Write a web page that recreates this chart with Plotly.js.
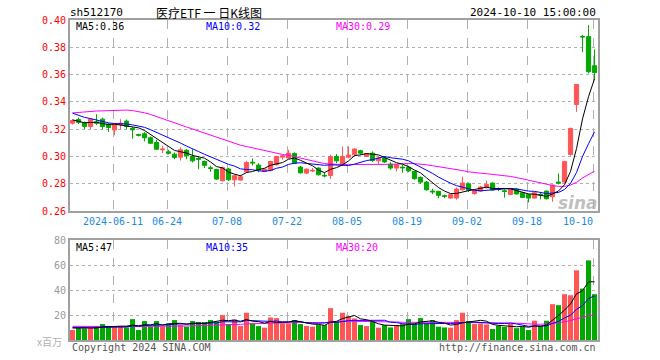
<!DOCTYPE html>
<html><head><meta charset="utf-8">
<script src="https://cdn.plot.ly/plotly-3.0.1.min.js"></script>
<style>html,body{margin:0;padding:0;background:#fff;}#chart{width:660px;height:360px;}</style>
</head><body><div id="chart"></div>
<script>
// ---- data ----
const symbol = 'sh512170';
const chartTitle = '医疗ETF 一 日K线图';
const stamp = '2024-10-10 15:00:00';
const firstDay = '2024-05-30', lastDay = '2024-10-10';
const holidays = ['2024-06-10','2024-09-16','2024-09-17','2024-10-01','2024-10-02','2024-10-03','2024-10-04','2024-10-07'];
const tickDates = ['2024-06-11','2024-06-24','2024-07-08','2024-07-22','2024-08-05','2024-08-19','2024-09-02','2024-09-18','2024-10-10'];

const openP = [0.3244,0.3270,0.3249,0.3220,0.3254,0.3273,0.3237,0.3195,0.3234,0.3259,
0.3205,0.3161,0.3166,0.3137,0.3102,0.3049,0.3034,0.3017,0.2995,0.3046,
0.3000,0.2985,0.2963,0.2917,0.2905,0.2822,0.2908,0.2829,0.2827,0.2888,
0.2958,0.2937,0.2890,0.2898,0.2939,0.2995,0.2988,0.3022,0.2922,0.2878,
0.2893,0.2915,0.2862,0.2860,0.3000,0.2944,0.2995,0.3012,0.3042,0.3000,
0.3024,0.2968,0.2988,0.2944,0.2915,0.2922,0.2920,0.2890,0.2846,0.2812,
0.2746,0.2744,0.2712,0.2695,0.2695,0.2756,0.2800,0.2728,0.2746,0.2771,
0.2805,0.2762,0.2748,0.2722,0.2760,0.2734,0.2720,0.2695,0.2722,0.2746,
0.2705,0.2812,0.2812,0.3015,0.3381,0.3880,0.3878,0.3665];
const highP = [0.3270,0.3286,0.3255,0.3280,0.3310,0.3285,0.3244,0.3240,0.3273,0.3270,
0.3215,0.3166,0.3180,0.3146,0.3122,0.3078,0.3049,0.3029,0.3066,0.3053,
0.3053,0.2995,0.2970,0.2932,0.2910,0.2925,0.2915,0.2868,0.2866,0.2968,
0.2985,0.2951,0.2912,0.2968,0.3005,0.3012,0.3049,0.3030,0.2930,0.2912,
0.2915,0.2920,0.2883,0.3012,0.3017,0.3073,0.3073,0.3061,0.3049,0.3024,
0.3037,0.3000,0.3000,0.2958,0.2944,0.2939,0.2932,0.2895,0.2854,0.2820,
0.2763,0.2749,0.2720,0.2725,0.2773,0.2853,0.2808,0.2755,0.2785,0.2824,
0.2810,0.2771,0.2760,0.2768,0.2768,0.2740,0.2725,0.2740,0.2734,0.2751,
0.2795,0.2876,0.2968,0.3212,0.3530,0.3890,0.3963,0.3785];
const lowP = [0.3234,0.3238,0.3200,0.3200,0.3230,0.3200,0.3180,0.3156,0.3200,0.3200,
0.3130,0.3146,0.3110,0.3092,0.3049,0.3024,0.3015,0.2980,0.2970,0.2980,
0.2956,0.2907,0.2915,0.2888,0.2829,0.2815,0.2820,0.2780,0.2822,0.2880,
0.2934,0.2885,0.2885,0.2890,0.2935,0.2976,0.2985,0.2945,0.2875,0.2870,
0.2885,0.2860,0.2846,0.2835,0.2951,0.2934,0.2985,0.3000,0.3012,0.2995,
0.2960,0.2946,0.2951,0.2903,0.2890,0.2880,0.2885,0.2829,0.2798,0.2749,
0.2724,0.2695,0.2695,0.2690,0.2683,0.2749,0.2740,0.2720,0.2740,0.2765,
0.2750,0.2746,0.2698,0.2718,0.2720,0.2695,0.2663,0.2690,0.2685,0.2685,
0.2668,0.2795,0.2805,0.3005,0.3327,0.3763,0.3609,0.3565];
const closeP = [0.3263,0.3250,0.3220,0.3273,0.3244,0.3220,0.3212,0.3234,0.3244,0.3220,
0.3195,0.3156,0.3137,0.3097,0.3053,0.3054,0.3024,0.2993,0.3049,0.3005,
0.2968,0.2980,0.2935,0.2912,0.2834,0.2918,0.2829,0.2859,0.2851,0.2956,
0.2953,0.2900,0.2907,0.2963,0.3000,0.3005,0.3024,0.2950,0.2880,0.2907,
0.2898,0.2866,0.2858,0.3000,0.2968,0.3000,0.3010,0.3054,0.3024,0.3020,
0.2970,0.2988,0.2960,0.2915,0.2939,0.2917,0.2895,0.2837,0.2812,0.2756,
0.2741,0.2715,0.2708,0.2720,0.2761,0.2805,0.2752,0.2750,0.2776,0.2795,
0.2754,0.2758,0.2744,0.2763,0.2725,0.2700,0.2695,0.2734,0.2717,0.2690,
0.2790,0.2805,0.2962,0.3205,0.3527,0.3876,0.3621,0.3615];
// volume, millions
const volume = [8.0,10.1,9.3,10.1,10.7,12.8,10.7,10.7,11.5,10.1,
16.8,8.0,15.2,10.7,15.2,10.7,13.3,16.0,12.0,10.7,
15.2,14.4,14.4,16.0,14.7,20.0,12.8,16.5,11.2,21.9,
13.3,11.2,9.9,18.1,17.6,13.3,13.3,16.0,12.8,11.2,
10.7,12.0,12.0,25.6,14.7,21.9,19.2,17.3,12.0,11.2,
14.7,9.9,12.0,10.1,12.0,12.8,16.8,13.3,17.6,13.3,
16.0,10.7,10.1,9.9,16.0,21.9,15.2,12.8,13.3,12.5,
8.8,11.5,10.5,12.8,9.5,10.5,8.0,15.5,11.0,15.5,
28.8,28.0,36.8,36.0,56.0,41.3,64.0,36.8];
// 29 sessions before the window (only used for the moving averages)
const priorClose = [0.312,0.314,0.316,0.315,0.318,0.317,0.316,0.319,0.322,
0.330,0.338,0.342,0.345,0.348,0.350,0.352,0.350,0.347,0.346,0.343,0.340,
0.338,0.336,0.335,0.334,0.330,0.328,0.326,0.324];
const priorVolume = [12,13,11,10,12,14,11,10,9,12,13,11,12,10,11,13,12,10,11,12,11,10,9,12,11,10,9,11,10];
const priceTicks = [0.26,0.28,0.30,0.32,0.34,0.36,0.38,0.40];
const volTicks = [20,40,60,80];

// ---- derived ----
function tradingDays(){
  const out=[]; const d=new Date(firstDay+'T00:00:00Z'); const end=new Date(lastDay+'T00:00:00Z');
  while(d<=end){const s=d.toISOString().slice(0,10); const wd=d.getUTCDay();
    if(wd!==0&&wd!==6&&holidays.indexOf(s)<0) out.push(s); d.setUTCDate(d.getUTCDate()+1);}
  return out;
}
const dates = tradingDays();
const N = closeP.length;
const idx = closeP.map((_,i)=>i);
function movingAvg(series, prior, n){
  const all = prior.concat(series), off = prior.length;
  return series.map((_,i)=>{let s=0; for(let k=i+off-n+1;k<=i+off;k++) s+=all[k]; return s/n;});
}
const ma5 = movingAvg(closeP, priorClose, 5), ma10 = movingAvg(closeP, priorClose, 10), ma30 = movingAvg(closeP, priorClose, 30);
const vma5 = movingAvg(volume, priorVolume, 5), vma10 = movingAvg(volume, priorVolume, 10), vma30 = movingAvg(volume, priorVolume, 30);
const UP='#ff5555', DOWN='#00a800';
const volColors = idx.map(i=> closeP[i]>=openP[i] ? UP : DOWN);
const tickIdx = tickDates.map(t=>dates.indexOf(t)).map(i=> i<0?0:i);
const tickPos = tickIdx.map(i=>i-0.25);
const NB='\u00a0';
const tickText = tickDates.map((t,k)=> k===0 ? t : (k===tickDates.length-1 ? t.slice(5)+NB.repeat(5) : t.slice(5)));

const MONO = 'DejaVu Sans Mono, monospace';
const traces = [
  {type:'candlestick', x:idx, open:openP, high:highP, low:lowP, close:closeP, xaxis:'x', yaxis:'y',
   increasing:{line:{color:UP,width:1}, fillcolor:UP}, decreasing:{line:{color:DOWN,width:1}, fillcolor:DOWN},
   whiskerwidth:0, hoverinfo:'skip'},
  {type:'scatter', mode:'lines', x:idx, y:ma30, line:{color:'#ff00ff',width:1}, xaxis:'x', yaxis:'y', hoverinfo:'skip'},
  {type:'scatter', mode:'lines', x:idx, y:ma10, line:{color:'#0000ff',width:1}, xaxis:'x', yaxis:'y', hoverinfo:'skip'},
  {type:'scatter', mode:'lines', x:idx, y:ma5, line:{color:'#000000',width:1}, xaxis:'x', yaxis:'y', hoverinfo:'skip'},
  {type:'bar', x:idx, y:volume, marker:{color:volColors, line:{width:0}}, xaxis:'x2', yaxis:'y2', hoverinfo:'skip'},
  {type:'scatter', mode:'lines', x:idx, y:vma30, line:{color:'#ff00ff',width:1}, xaxis:'x2', yaxis:'y2', hoverinfo:'skip'},
  {type:'scatter', mode:'lines', x:idx, y:vma10, line:{color:'#0000ff',width:1}, xaxis:'x2', yaxis:'y2', hoverinfo:'skip'},
  {type:'scatter', mode:'lines', x:idx, y:vma5, line:{color:'#000000',width:1}, xaxis:'x2', yaxis:'y2', hoverinfo:'skip'}
];
const X0=-0.42, X1=N-1+0.58;
const frame = {showline:true, mirror:true, linecolor:'#a0a0a0', linewidth:2, zeroline:false, ticks:'', fixedrange:true};
const layout = {
  width:660, height:360, margin:{l:70,r:62,t:20,b:20,pad:0},
  paper_bgcolor:'#fff', plot_bgcolor:'#fff', showlegend:false, bargap:0.15, boxgap:0.3, boxgroupgap:0,
  font:{family:MONO, size:10, color:'#000'},
  xaxis:Object.assign({}, frame, {anchor:'y', domain:[0,1], range:[X0,X1], tickmode:'array', tickvals:tickPos, ticktext:tickText,
    tickfont:{family:MONO,size:10,color:'#1a8ae0'}, showgrid:true, gridcolor:'#b0b0b0', griddash:'dash', gridwidth:1, rangeslider:{visible:false}}),
  yaxis:Object.assign({}, frame, {anchor:'x', domain:[0.403,1], range:[0.26,0.40], tickmode:'array', tickvals:priceTicks,
    ticktext:priceTicks.map(v=>v.toFixed(2)), tickfont:{family:MONO,size:10,color:'#ff0000'}, showgrid:true, gridcolor:'#b0b0b0', griddash:'dot', gridwidth:1}),
  xaxis2:Object.assign({}, frame, {anchor:'y2', domain:[0,1], range:[X0,X1], tickmode:'array', tickvals:tickPos, showticklabels:false,
    showgrid:true, gridcolor:'#b0b0b0', griddash:'dash', gridwidth:1}),
  yaxis2:Object.assign({}, frame, {anchor:'x2', domain:[0,0.311], range:[0,80], tickmode:'array', tickvals:volTicks,
    tickfont:{family:MONO,size:10,color:'#999'}, showgrid:true, gridcolor:'#b0b0b0', griddash:'dot', gridwidth:1}),
  annotations:[]
};
function px(X){return (X-70)/528;} function py(Y){return (340-Y)/320;}
function note(text,X,Y,anchor,color,size,family){
  layout.annotations.push({text:text, xref:'paper', yref:'paper', x:px(X), y:py(Y), xanchor:anchor, yanchor:'middle',
    showarrow:false, font:{family:family||MONO, size:size||10, color:color||'#000'}});
}
note(symbol, 68, 13, 'left', '#000', 11);
note(chartTitle.replace(/ /g, NB), 209, 12, 'center', '#000', 12, 'Noto Sans CJK SC, sans-serif');
note(stamp, 598, 13, 'right', '#000', 11);
note('MA5:'+ma5[N-1].toFixed(2), 74, 27, 'left', '#000', 10);
note('MA10:'+ma10[N-1].toFixed(2), 204, 27, 'left', '#0000ff', 10);
note('MA30:'+ma30[N-1].toFixed(2), 334, 27, 'left', '#ff00ff', 10);
note('MA5:'+vma5[N-1].toFixed(0), 74, 247, 'left', '#000', 10);
note('MA10:'+vma10[N-1].toFixed(0), 204, 247, 'left', '#0000ff', 10);
note('MA30:'+vma30[N-1].toFixed(0), 334, 247, 'left', '#ff00ff', 10);
note('x百万', 64, 341, 'right', '#b0b0b0', 10, 'Noto Sans CJK SC, sans-serif');
note('Copyright 2024 SINA.COM', 70, 347, 'left', '#555', 10);
note('http://finance.sina.com.cn', 598, 347, 'right', '#555', 10);
layout.annotations.push({text:'<b><i>sina</i></b>', xref:'paper', yref:'paper', x:px(578), y:py(203), xanchor:'center', yanchor:'middle',
  showarrow:false, font:{family:'DejaVu Sans, sans-serif', size:17, color:'rgba(170,170,170,0.75)'}});
Plotly.newPlot('chart', traces, layout, {displayModeBar:false, staticPlot:true});
</script></body></html>
